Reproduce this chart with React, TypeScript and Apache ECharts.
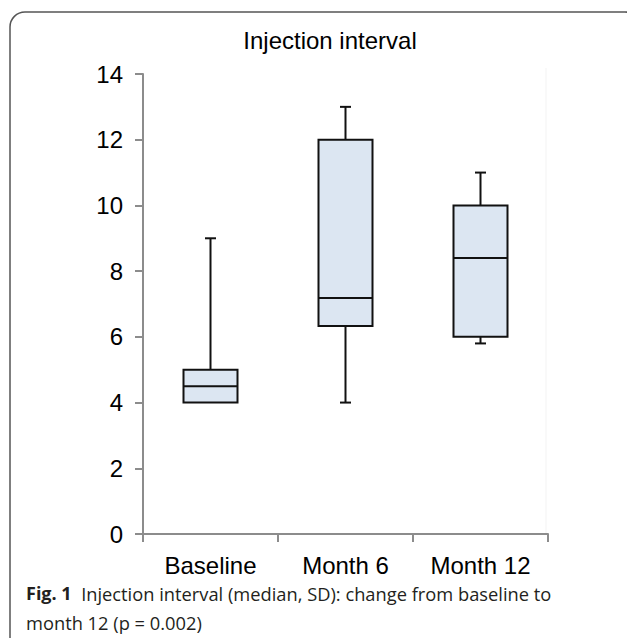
import React, { useEffect, useRef } from "react";
import * as echarts from "echarts";

const categories = ["Baseline", "Month 6", "Month 12"];
// [min, Q1, median, Q3, max]
const mins = [4, 4, 5.8];
const q1s = [4, 6.33, 6.0];
const medians = [4.5, 7.18, 8.4];
const q3s = [5, 12, 10];
const maxs = [9, 13, 11];
const yTicks = [0, 2, 4, 6, 8, 10, 12, 14];

const titleText = "Injection interval";
const captionBold = "Fig. 1";
const captionLine1 = "Injection interval (median, SD): change from baseline to";
const captionLine2 = "month 12 (p = 0.002)";

export default function App() {
  const ref = useRef<HTMLDivElement>(null);
  useEffect(() => {
    if (!ref.current) return;
    const chart = echarts.init(ref.current, undefined, { renderer: "svg" });
    const data = categories.map((_, i) => [i, mins[i], q1s[i], medians[i], q3s[i], maxs[i]]);
    const font = "'Liberation Sans', Arial, sans-serif";
    chart.setOption({
      animation: false,
      backgroundColor: "#ffffff",
      grid: { left: 143, right: 79, top: 74, bottom: 104, containLabel: false },
      xAxis: {
        type: "category",
        data: categories,
        boundaryGap: true,
        axisLine: { show: true, lineStyle: { color: "#8c8c8c", width: 2 } },
        axisTick: { show: true, length: 8, alignWithLabel: false, lineStyle: { color: "#8c8c8c", width: 2 } },
        axisLabel: { color: "#000", fontSize: 24, fontFamily: font, margin: 19 },
        splitLine: { show: false },
      },
      yAxis: {
        type: "value",
        min: yTicks[0],
        max: yTicks[yTicks.length - 1],
        interval: 2,
        axisLine: { show: true, lineStyle: { color: "#8c8c8c", width: 2 } },
        axisTick: { show: true, length: 8, lineStyle: { color: "#8c8c8c", width: 2 } },
        axisLabel: { color: "#000", fontSize: 24, fontFamily: font, margin: 20 },
        splitLine: { show: false },
      },
      series: [
        {
          type: "custom",
          data,
          encode: { x: 0, y: [1, 2, 3, 4, 5] },
          renderItem: (params: any, api: any) => {
            const idx = api.value(0);
            const vMin = api.value(1);
            const vQ1 = api.value(2);
            const vMed = api.value(3);
            const vQ3 = api.value(4);
            const vMax = api.value(5);
            const band = api.size([1, 0])[0];
            const boxW = band * 0.4;
            const capW = 11;
            const pMin = api.coord([idx, vMin]);
            const pQ1 = api.coord([idx, vQ1]);
            const pMed = api.coord([idx, vMed]);
            const pQ3 = api.coord([idx, vQ3]);
            const pMax = api.coord([idx, vMax]);
            const cx = pMed[0];
            const stroke = { stroke: "#111", lineWidth: 2, fill: null };
            const children: any[] = [];
            if (vMax > vQ3) {
              children.push({ type: "line", shape: { x1: cx, y1: pQ3[1], x2: cx, y2: pMax[1] }, style: stroke });
              children.push({ type: "line", shape: { x1: cx - capW / 2, y1: pMax[1], x2: cx + capW / 2, y2: pMax[1] }, style: stroke });
            }
            if (vMin < vQ1) {
              children.push({ type: "line", shape: { x1: cx, y1: pQ1[1], x2: cx, y2: pMin[1] }, style: stroke });
              children.push({ type: "line", shape: { x1: cx - capW / 2, y1: pMin[1], x2: cx + capW / 2, y2: pMin[1] }, style: stroke });
            }
            children.push({
              type: "rect",
              shape: { x: cx - boxW / 2, y: pQ3[1], width: boxW, height: pQ1[1] - pQ3[1] },
              style: { fill: "#dce6f2", stroke: "#111", lineWidth: 2 },
            });
            children.push({ type: "line", shape: { x1: cx - boxW / 2, y1: pMed[1], x2: cx + boxW / 2, y2: pMed[1] }, style: stroke });
            return { type: "group", children };
          },
        },
      ],
      graphic: [
        {
          type: "rect",
          silent: true,
          shape: { x: 10, y: 12, width: 630, height: 700, r: 15 },
          style: { fill: "none", stroke: "#555", lineWidth: 1.5 },
        },
        {
          type: "line",
          silent: true,
          shape: { x1: 546, y1: 68, x2: 546, y2: 534 },
          style: { stroke: "#f3f3f3", lineWidth: 1 },
        },
        {
          type: "text",
          x: 330,
          y: 40,
          style: {
            text: titleText,
            fill: "#000",
            font: `24px ${font}`,
            textAlign: "center",
            textVerticalAlign: "middle",
          },
        },
        {
          type: "text",
          x: 26,
          y: 593,
          style: {
            text: `{b|${captionBold}}{n|  ${captionLine1}}`,
            textVerticalAlign: "middle",
            rich: {
              b: { fontFamily: "'Open Sans', sans-serif", fontWeight: "bold", fontSize: 18, fill: "#231f20" },
              n: { fontFamily: "'Open Sans', sans-serif", fontSize: 18.3, fill: "#231f20" },
            },
          },
        },
        {
          type: "text",
          x: 26,
          y: 622,
          style: {
            text: captionLine2,
            textVerticalAlign: "middle",
            fontFamily: "'Open Sans', sans-serif",
            fontSize: 18.3,
            fill: "#231f20",
          },
        },
      ],
    });
    return () => chart.dispose();
  }, []);
  return (
    <div
      ref={ref}
      style={{ position: "absolute", left: 0, top: 0, width: 627, height: 638 }}
    />
  );
}
